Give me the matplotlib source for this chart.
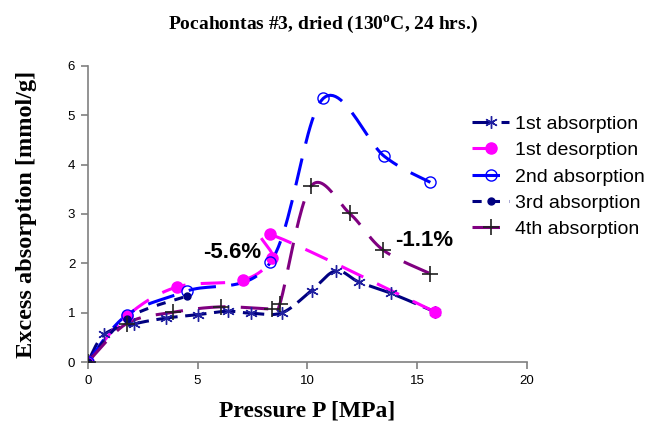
import numpy as np
import matplotlib
matplotlib.use("Agg")
import matplotlib.pyplot as plt
from matplotlib.lines import Line2D

plt.rcParams['font.family'] = ['Liberation Sans', 'DejaVu Sans']
plt.rcParams['mathtext.fontset'] = 'custom'
plt.rcParams['mathtext.rm'] = 'Liberation Serif:bold'
plt.rcParams['mathtext.it'] = 'Liberation Serif:bold'
plt.rcParams['mathtext.bf'] = 'Liberation Serif:bold'

# ---- data ----
a1_x = [0, 0.75, 2.1, 3.55, 5.0, 6.37, 7.43, 8.85, 10.19, 11.3, 12.36, 13.83, 15.8]
a1_y = [0, 0.56, 0.77, 0.89, 0.96, 1.03, 0.99, 1.0, 1.45, 1.85, 1.62, 1.39, 1.02]

d1_x = [15.8, 8.29, 8.41, 7.08, 4.05, 1.77, 0]
d1_y = [1.02, 2.59, 2.10, 1.66, 1.52, 0.93, 0]

a2_x = [0, 1.77, 4.53, 8.32, 10.72, 13.5, 15.6]
a2_y = [0, 0.95, 1.44, 2.02, 5.34, 4.17, 3.64]

a3_x = [0, 1.77, 4.53]
a3_y = [0, 0.88, 1.34]

a4_x = [0, 1.77, 3.89, 6.09, 8.37, 8.75, 10.16, 11.93, 13.45, 15.6]
a4_y = [0, 0.78, 1.01, 1.12, 1.08, 1.18, 3.56, 3.01, 2.27, 1.79]

labels = ['1st absorption', '1st desorption', '2nd absorption', '3rd absorption', '4th absorption']
x_ticks = [0, 5, 10, 15, 20]
y_ticks = [0, 1, 2, 3, 4, 5, 6]


def smooth(x, y, n=25):
    pts = np.column_stack([x, y]).astype(float)
    out = []
    for i in range(len(pts) - 1):
        p0 = pts[i - 1] if i > 0 else pts[i]
        p1 = pts[i]
        p2 = pts[i + 1]
        p3 = pts[i + 2] if i + 2 < len(pts) else pts[i + 1]
        c1 = p1 + (p2 - p0) / 6
        c2 = p2 - (p3 - p1) / 6
        t = np.linspace(0, 1, n)[:, None]
        seg = (1 - t) ** 3 * p1 + 3 * (1 - t) ** 2 * t * c1 + 3 * (1 - t) * t ** 2 * c2 + t ** 3 * p2
        out.append(seg if i == 0 else seg[1:])
    s = np.vstack(out)
    return s[:, 0], s[:, 1]


fig = plt.figure(figsize=(6.45, 4.25), dpi=100)
ax = fig.add_axes([0.136, 0.148, 0.681, 0.697])

series = [
    (a1_x, a1_y, '#000080', (0, (7, 2.5)), dict(marker=(6, 2, 0), ms=9, mec='#2020a0', mfc='none', mew=1.0)),
    (d1_x, d1_y, '#ff00ff', (0, (8, 5)), dict(marker='o', ms=8, mec='#ff00ff', mfc='#ff00ff')),
    (a2_x, a2_y, '#0000ff', (0, (9, 5)), dict(marker='o', ms=8, mec='#0000ff', mfc='none', mew=1.0)),
    (a3_x, a3_y, '#000080', (0, (3, 3)), dict(marker='o', ms=5, mec='#000080', mfc='#000080')),
    (a4_x, a4_y, '#800080', (0, (9, 5)), dict(marker='+', ms=11, mec='#202020', mew=1.2)),
]

handles = []
for (x, y, c, ls, mk), lab in zip(series, labels):
    sx, sy = smooth(x, y)
    ax.plot(sx, sy, color=c, lw=2.2, linestyle=ls, zorder=2)
    ax.plot(x, y, linestyle='none', zorder=3, **mk)
    handles.append(Line2D([], [], color=c, lw=2.2, linestyle=ls, **mk))

ax.set_xlim(0, 20)
ax.set_ylim(0, 6)
ax.set_xticks(x_ticks)
ax.set_yticks(y_ticks)
for s in ['top', 'right']:
    ax.spines[s].set_visible(False)
for s in ['left', 'bottom']:
    ax.spines[s].set_color('#808080')
    ax.spines[s].set_linewidth(1.2)
ax.tick_params(axis='both', direction='out', length=5, width=1.2, color='#808080', labelsize=9.5, pad=4)
ax.patch.set_alpha(0)

ax.text(6.6, 2.22, '-5.6%', fontsize=16, fontweight='bold', ha='center', va='center')
ax.text(15.3, 2.47, '-1.1%', fontsize=16, fontweight='bold', ha='center', va='center')

fig.text(0.5, 0.943, r'Pocahontas #3, dried (130$^{\rm o}$C, 24 hrs.)', fontsize=14,
         family='Liberation Serif', fontweight='bold', ha='center', va='center')
ax.set_xlabel('Pressure P [MPa]', fontsize=17, family='Liberation Serif', fontweight='bold', labelpad=10)
ax.set_ylabel('Excess absorption [mmol/g]', fontsize=17.5, family='Liberation Serif', fontweight='bold', labelpad=22)

leg = fig.legend(handles=handles, labels=labels, loc='upper left', bbox_to_anchor=(0.705, 0.77),
                 frameon=False, fontsize=14, handlelength=1.9, labelspacing=0.45, handletextpad=0.3)

fig.savefig('out.png', dpi=100)
